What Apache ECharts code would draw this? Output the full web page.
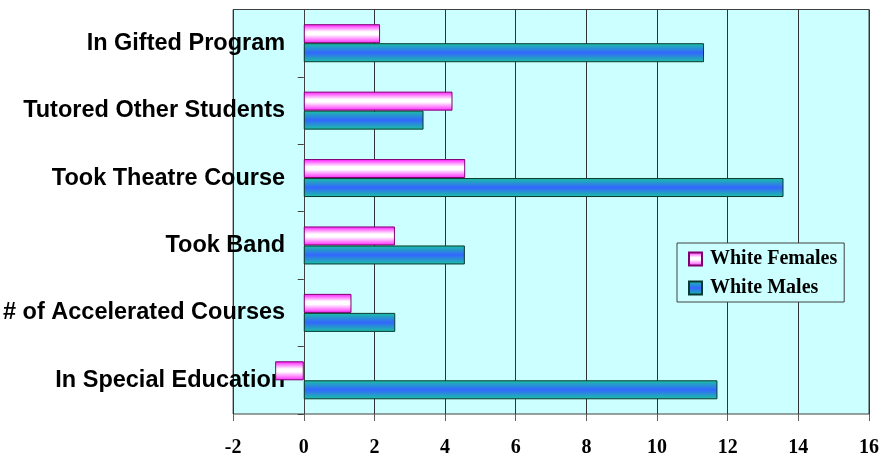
<!DOCTYPE html>
<html>
<head>
<meta charset="utf-8">
<script src="https://cdn.jsdelivr.net/npm/echarts@6/dist/echarts.min.js"></script>
<style>
  html, body { margin: 0; padding: 0; background: #ffffff; }
  #chart { width: 883px; height: 459px; }
</style>
</head>
<body>
<div id="chart"></div>
<script>
// Categories listed bottom to top along the vertical axis
const categories = [
  'In Special Education',
  '# of Accelerated Courses',
  'Took Band',
  'Took Theatre Course',
  'Tutored Other Students',
  'In Gifted Program'
];
const whiteFemales = [-0.81, 1.35, 2.58, 4.57, 4.21, 2.16];
const whiteMales = [11.71, 2.59, 4.56, 13.58, 3.39, 11.33];
const xTicks = [-2, 0, 2, 4, 6, 8, 10, 12, 14, 16];

// Cylinder-like shading: bright edges, light centre
const pinkFill = new echarts.graphic.LinearGradient(0, 0, 0, 1, [
  { offset: 0, color: '#ff11ff' },
  { offset: 0.4, color: '#ffffff' },
  { offset: 0.55, color: '#ffffff' },
  { offset: 1, color: '#ff22ff' }
]);
const tealFill = new echarts.graphic.LinearGradient(0, 0, 0, 1, [
  { offset: 0, color: '#19c4a0' },
  { offset: 0.5, color: '#3366ff' },
  { offset: 1, color: '#19c4a0' }
]);

const chart = echarts.init(document.getElementById('chart'), null, { renderer: 'canvas' });
chart.setOption({
  animation: false,
  backgroundColor: '#ffffff',
  grid: {
    left: 232, right: 14, top: 9.5, bottom: 45,
    show: true,
    backgroundColor: '#ccffff',
    borderColor: '#404040',
    borderWidth: 1
  },
  legend: {
    data: ['White Females', 'White Males'],
    orient: 'vertical',
    left: 677, top: 243,
    padding: [6, 7, 4, 11],
    itemWidth: 13, itemHeight: 13, itemGap: 9,
    icon: 'rect',
    backgroundColor: '#ccffff',
    borderColor: '#404040',
    borderWidth: 1,
    textStyle: {
      fontFamily: 'Liberation Serif',
      fontWeight: 'bold',
      fontSize: 20,
      color: '#000000',
      padding: [0, 0, 0, 3]
    }
  },
  xAxis: {
    type: 'value',
    min: xTicks[0],
    max: xTicks[xTicks.length - 1],
    interval: 2,
    axisLine: { show: false },
    axisTick: { show: true, length: 7, lineStyle: { color: '#606060' } },
    axisLabel: {
      margin: 24,
      fontFamily: 'Liberation Serif',
      fontWeight: 'bold',
      fontSize: 20,
      color: '#000000',
      formatter: v => String(v)
    },
    splitLine: { show: true, lineStyle: { color: '#333333', width: 1 } }
  },
  yAxis: {
    type: 'category',
    data: categories,
    axisLine: { show: true, onZero: true, lineStyle: { color: '#404040', width: 1 } },
    axisTick: { show: true, length: 6, lineStyle: { color: '#404040' } },
    axisLabel: {
      margin: -52,
      fontFamily: 'Liberation Sans',
      fontWeight: 'bold',
      fontSize: 23.5,
      color: '#000000'
    },
    splitLine: { show: false }
  },
  series: [
    {
      name: 'White Females',
      type: 'bar',
      data: whiteFemales,
      barWidth: 19,
      barGap: '0%',
      itemStyle: { color: pinkFill, borderColor: '#800070', borderWidth: 1 }
    },
    {
      name: 'White Males',
      type: 'bar',
      data: whiteMales,
      barWidth: 19,
      barGap: '0%',
      itemStyle: { color: tealFill, borderColor: '#0a3a30', borderWidth: 1 }
    }
  ]
});
</script>
</body>
</html>
